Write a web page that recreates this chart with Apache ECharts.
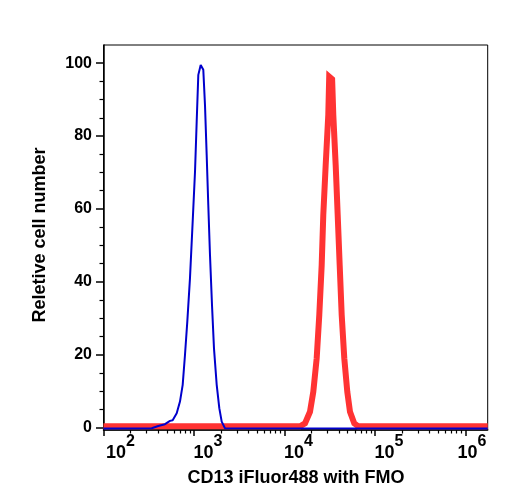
<!DOCTYPE html>
<html>
<head>
<meta charset="utf-8">
<script src="https://cdn.jsdelivr.net/npm/echarts@6/dist/echarts.min.js"></script>
<style>html,body{margin:0;padding:0;background:#fff;}#c{width:508px;height:500px;}</style>
</head>
<body>
<div id="c"></div>
<script>
// ---- data (fluorescence intensity, relative cell number) ----
var fmoX = [100, 341, 403, 478, 543, 581, 644, 700, 750, 795, 843, 903, 967, 1026, 1071, 1116, 1186, 1267, 1323, 1381, 1439, 1502, 1581, 1663, 1782, 1904, 2024, 2200, 1760000];
var fmoY = [-0.3, -0.2, 0.4, 0.9, 1.8, 2.0, 3.9, 7.1, 11.7, 19.9, 29, 41, 56.5, 70.2, 84, 96.8, 99.5, 98.2, 88.5, 74.8, 61, 47.4, 33.6, 21.7, 11.7, 5.3, 1.6, -0.2, -0.3];
var cd13X = [100, 14840, 16850, 19130, 20810, 22690, 24240, 25770, 26840, 28520, 30480, 31200, 33600, 34610, 36790, 38700, 40730, 42860, 45790, 49410, 52950, 59060, 65400, 1760000];
var cd13Y = [0.3, 0.3, 1.1, 4.3, 9.8, 19, 30.9, 44.6, 58.4, 72, 85.8, 96.3, 95.6, 85.8, 72, 58.4, 44.6, 30.9, 19, 9.8, 4.3, 1.1, 0.3, 0.3];
var xTickExponents = [2, 3, 4, 5, 6];
var yTickValues = [0, 20, 40, 60, 80, 100];
var xTitle = 'CD13 iFluor488 with FMO';
var yTitle = 'Reletive cell number';

var X_MIN = 100, X_MAX = 1760000;
var LX_MIN = Math.log10(X_MIN), LX_MAX = Math.log10(X_MAX);
var minorTicks = [];
for (var e = 2; e <= 6; e++) {
  for (var k = 2; k <= 9; k++) {
    var v = Math.log10(k) + e;
    if (v < LX_MAX) minorTicks.push(v);
  }
}
function pairs(xs, ys) { return xs.map(function (x, i) { return [x, ys[i]]; }); }
var FONT = 'Liberation Sans, Arial, sans-serif';

var chart = echarts.init(document.getElementById('c'), null, {renderer: 'canvas'});
chart.setOption({
  animation: false,
  backgroundColor: '#fff',
  grid: {left: 103.5, right: 20.3, top: 45, bottom: 70, show: true, borderColor: '#000', borderWidth: 1, backgroundColor: 'transparent'},
  xAxis: [
    {type: 'log', logBase: 10, min: X_MIN, max: X_MAX, position: 'bottom',
     axisLine: {show: true, onZero: false, lineStyle: {color: '#000', width: 1.5}},
     axisTick: {show: false}, axisLabel: {show: false}, splitLine: {show: false}},
    {type: 'value', min: LX_MIN, max: LX_MAX, position: 'bottom',
     axisLine: {show: false, onZero: false},
     axisTick: {show: true, customValues: xTickExponents, length: 6, lineStyle: {color: '#000', width: 1.5}},
     axisLabel: {show: true, customValues: xTickExponents, margin: 4, align: 'center',
       formatter: function (val) {
         var ex = Math.round(val);
         var sp = ex === 2 ? 'spA' : (ex === 6 ? 'spC' : 'spB');
         return '{' + sp + '|}{b|10}{s|' + ex + '}';
       },
       rich: {
         spA: {width: 34, lineHeight: 28},
         spB: {width: 28, lineHeight: 28},
         spC: {width: 13, lineHeight: 28},
         b: {fontFamily: FONT, fontWeight: 'bold', fontSize: 18, color: '#000', lineHeight: 28, verticalAlign: 'bottom'},
         s: {fontFamily: FONT, fontWeight: 'bold', fontSize: 16, color: '#000', lineHeight: 28, verticalAlign: 'top'}
       }},
     splitLine: {show: false}},
    {type: 'value', min: LX_MIN, max: LX_MAX, position: 'bottom',
     axisLine: {show: false, onZero: false},
     axisTick: {show: true, customValues: minorTicks, length: 3.5, lineStyle: {color: '#000', width: 1.2}},
     axisLabel: {show: false}, splitLine: {show: false}}
  ],
  yAxis: {
    type: 'value', min: -0.7, max: 105, splitNumber: 5,
    axisLine: {show: true, onZero: false, lineStyle: {color: '#000', width: 1.5}},
    axisTick: {show: true, customValues: yTickValues, length: 7.5, lineStyle: {color: '#000', width: 1.5}},
    minorTick: {show: true, splitNumber: 4, length: 4, lineStyle: {color: '#000', width: 1.2}},
    axisLabel: {customValues: yTickValues, margin: 11.5, color: '#000', fontFamily: FONT, fontWeight: 'bold', fontSize: 16},
    splitLine: {show: false}, minorSplitLine: {show: false}
  },
  graphic: [
    {type: 'text', x: 40, y: 235, rotation: Math.PI / 2,
     style: {text: yTitle, fill: '#000', font: 'bold 18px ' + FONT, textAlign: 'center', textVerticalAlign: 'middle'}},
    {type: 'text', x: 296, y: 478,
     style: {text: xTitle, fill: '#000', font: 'bold 18px ' + FONT, textAlign: 'center', textVerticalAlign: 'middle'}}
  ],
  series: [
    {type: 'line', name: 'CD13', xAxisIndex: 0, data: pairs(cd13X, cd13Y), showSymbol: false, symbol: 'none',
     lineStyle: {color: '#ff3333', width: 6, join: 'miter'}, z: 2, clip: false},
    {type: 'line', name: 'FMO', xAxisIndex: 0, data: pairs(fmoX, fmoY), showSymbol: false, symbol: 'none',
     lineStyle: {color: '#0000cc', width: 2}, z: 3, clip: false}
  ]
});
</script>
</body>
</html>
